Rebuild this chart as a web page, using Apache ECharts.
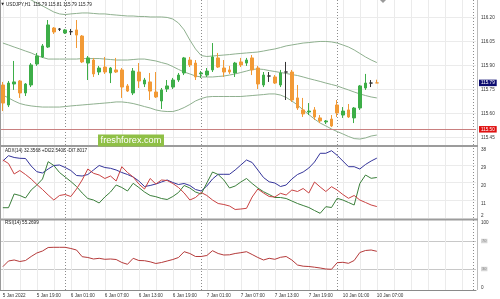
<!DOCTYPE html>
<html><head><meta charset="utf-8">
<script src="https://cdn.jsdelivr.net/npm/echarts@6/dist/echarts.min.js"></script>
<style>html,body{margin:0;padding:0;background:#fff}#c{width:500px;height:299px}</style>
</head><body><div id="c"></div>
<script>
// ---- categories (hourly bars, with empty room on the right) ----
const days = [['5 Jan',13,23],['6 Jan',0,23],['7 Jan',0,23],['10 Jan',0,24]];
const categories = [];
days.forEach(([d,a,b])=>{for(let h=a;h<=b;h++)categories.push(d+' '+String(h).padStart(2,'0')+':00');});
const tickLabels = ['5 Jan 2022','5 Jan 19:00','6 Jan 01:00','6 Jan 07:00','6 Jan 13:00','6 Jan 19:00','7 Jan 01:00','7 Jan 07:00','7 Jan 13:00','7 Jan 19:00','10 Jan 01:00','10 Jan 07:00'];

// ---- USDJPY H1 candles ----
const open = [115.777,115.652,115.783,115.802,115.727,115.777,115.908,115.952,116.014,116.133,116.127,116.102,116.110,116.121,116.083,115.914,115.933,115.858,115.889,115.852,115.871,115.871,115.771,115.727,115.858,115.783,115.796,115.733,115.677,115.752,115.764,115.808,115.852,115.933,115.914,115.846,115.839,115.871,115.946,115.883,115.871,115.852,115.921,115.914,115.946,115.883,115.777,115.833,115.827,115.777,115.858,115.858,115.696,115.621,115.608,115.621,115.571,115.546,115.564,115.652,115.589,115.621,115.571,115.633,115.758,115.789,115.790];
const high = [115.796,115.802,115.927,115.808,115.789,115.914,115.977,116.033,116.183,116.139,116.133,116.127,116.127,116.183,116.089,115.958,115.946,115.896,115.952,115.889,115.946,115.883,115.783,115.883,115.914,115.821,115.852,115.858,115.758,115.808,115.821,115.852,115.952,115.952,115.933,115.864,115.883,116.039,115.977,115.933,115.896,115.921,115.946,115.946,115.964,115.896,115.858,115.858,115.839,115.871,115.921,115.871,115.777,115.696,115.664,115.639,115.589,115.558,115.589,115.683,115.639,115.658,115.639,115.777,115.846,115.808,115.810];
const low = [115.614,115.639,115.746,115.696,115.708,115.764,115.896,115.946,116.008,116.096,116.114,116.096,116.089,116.008,115.914,115.808,115.827,115.839,115.846,115.789,115.852,115.696,115.733,115.714,115.758,115.764,115.683,115.696,115.627,115.733,115.752,115.796,115.839,115.889,115.808,115.821,115.827,115.858,115.883,115.827,115.846,115.827,115.889,115.896,115.839,115.752,115.764,115.796,115.783,115.764,115.683,115.671,115.621,115.577,115.589,115.558,115.539,115.533,115.514,115.577,115.571,115.571,115.539,115.621,115.746,115.764,115.790];
const close = [115.664,115.789,115.796,115.727,115.783,115.902,115.958,116.021,116.152,116.108,116.125,116.121,116.110,116.089,115.921,115.946,115.846,115.883,115.858,115.883,115.858,115.764,115.739,115.864,115.802,115.808,115.739,115.702,115.746,115.771,115.808,115.839,115.946,115.902,115.827,115.852,115.864,115.952,115.889,115.858,115.858,115.914,115.902,115.933,115.871,115.783,115.839,115.833,115.789,115.852,115.858,115.683,115.633,115.596,115.614,115.577,115.552,115.552,115.521,115.602,115.614,115.577,115.633,115.771,115.789,115.789,115.790];
const dojiBars = [10,12,47,50,65];

// ---- Bollinger bands ----
const bbUpper = [116.364,116.358,116.351,116.343,116.326,116.308,116.289,116.271,116.252,116.233,116.221,116.217,116.221,116.224,116.227,116.227,116.224,116.221,116.221,116.217,116.214,116.211,116.208,116.208,116.205,116.205,116.202,116.202,116.202,116.199,116.189,116.164,116.121,116.058,116.002,115.961,115.955,115.958,115.961,115.964,115.967,115.971,115.974,115.977,115.980,115.983,115.989,115.996,116.002,116.011,116.021,116.027,116.033,116.039,116.042,116.046,116.049,116.049,116.046,116.039,116.027,116.014,115.996,115.974,115.952,115.933,115.917];
const bbMiddle = [116.039,116.027,116.014,116.002,115.989,115.977,115.961,115.949,115.939,115.939,115.939,115.939,115.939,115.939,115.942,115.942,115.942,115.942,115.939,115.936,115.933,115.933,115.933,115.936,115.939,115.939,115.933,115.927,115.917,115.908,115.892,115.874,115.858,115.846,115.833,115.827,115.827,115.827,115.830,115.833,115.839,115.846,115.855,115.864,115.874,115.877,115.874,115.867,115.861,115.855,115.849,115.842,115.836,115.827,115.817,115.808,115.799,115.789,115.780,115.771,115.758,115.746,115.733,115.721,115.711,115.702,115.696];
const bbLower = [115.714,115.696,115.677,115.661,115.652,115.646,115.642,115.639,115.639,115.639,115.639,115.642,115.646,115.649,115.652,115.655,115.658,115.661,115.664,115.667,115.671,115.671,115.667,115.661,115.652,115.642,115.633,115.621,115.614,115.611,115.611,115.621,115.636,115.655,115.677,115.692,115.702,115.705,115.705,115.705,115.705,115.705,115.705,115.708,115.711,115.714,115.717,115.721,115.721,115.714,115.699,115.677,115.652,115.621,115.592,115.564,115.539,115.521,115.502,115.486,115.471,115.455,115.442,115.439,115.446,115.458,115.464];

// ---- ADX(14) ----
const adx = [30.90,33.59,32.68,32.27,32.17,28.37,25.47,24.82,26.84,28.62,28.87,27.60,26.08,23.55,23.29,24.05,26.34,28.62,27.60,27.20,26.34,25.07,24.05,22.79,20.76,17.97,18.48,19.24,20.25,21.27,20.00,18.98,19.49,18.48,16.45,15.69,18.22,21.77,24.16,24.16,24.16,26.34,28.87,31.41,30.14,26.34,22.53,20.35,19.74,17.97,18.73,21.77,24.05,25.32,27.35,30.39,34.81,34.81,36.12,33.79,30.90,28.01,28.01,26.84,29.13,30.90,32.36];
const plusDI = [7.22,7.22,14.17,13.41,12.14,16.19,18.73,21.77,30.55,28.62,25.07,22.79,20.51,17.97,14.67,11.88,11.12,9.60,12.65,15.18,18.73,17.46,15.69,19.59,17.46,15.18,13.41,12.80,11.88,11.38,12.90,14.93,18.48,17.21,15.18,14.17,19.74,25.32,24.05,21.27,17.21,18.22,20.25,22.03,19.49,17.21,15.33,13.91,12.39,12.39,11.88,10.62,9.35,8.33,7.32,5.80,4.38,7.73,7.32,11.99,11.12,9.86,8.59,19.49,23.80,22.13,22.54];
const minusDI = [31.41,29.63,24.31,26.08,24.05,21.77,18.98,16.45,13.66,11.12,13.41,13.91,12.90,16.70,21.27,26.84,24.66,23.80,22.03,23.29,20.76,28.01,25.07,22.79,19.24,16.70,22.03,19.24,21.27,21.01,19.49,17.46,14.67,11.12,12.39,14.93,13.41,11.12,9.35,8.84,8.08,6.31,6.56,6.91,12.65,16.70,14.67,12.90,12.65,14.52,13.66,16.19,15.43,16.96,14.67,20.25,17.72,15.43,17.87,16.19,13.91,11.99,13.41,11.12,9.86,8.59,7.80];

// ---- RSI(14) ----
const rsi = [33.29,41.43,42.86,40.71,42.14,47.86,52.86,55.71,60.71,61.00,61.00,61.00,59.29,57.14,47.57,46.43,44.29,45.29,43.86,44.29,43.57,39.29,36.71,45.29,42.14,41.86,40.29,37.86,39.29,41.43,43.57,46.43,54.71,52.14,47.86,47.86,49.29,56.14,52.14,50.00,50.29,52.14,53.29,54.71,50.71,46.43,42.86,45.29,43.86,46.71,47.86,42.86,35.71,34.00,33.57,32.57,31.43,30.00,29.57,39.00,39.57,38.14,42.14,53.57,56.43,57.14,55.27];

// ---- levels / texts ----
const priceLevels = [116.20,116.05,115.90,115.75,115.60,115.45];
const adxLevels = [11,20,29];
const rsiLevels = [70,30];
const lastPrice = 115.79;
const hLinePrice = 115.50;
const mainTitle = 'USDJPY,H1  115.79 115.81 115.79 115.79';
const adxTitle = 'ADX(14) 32.3568 +DI22.5408 -DI7.8017';
const rsiTitle = 'RSI(14) 55.2699';
const separatorBars = [11,35,59,83];

// ---- style ----
const F = '"Liberation Sans", Arial, sans-serif';
const FS = 4.6;
const GREEN = '#3dae48', ORANGE = '#f29a36', DOJI = '#333';
const BB = '#8fb08f', GRIDC = '#ebebeb', SEPC = '#8c8c8c';
const MAIN_TOP = 116.308, MAIN_VIS_BOTTOM = 115.402;

const vGrid = []; for (let i = 0; i <= 81; i += 3) vGrid.push(i);

const candleData = open.map((o, i) => {
  const it = { value: [o, close[i], low[i], high[i]] };
  let c = null;
  if (dojiBars.includes(i)) c = DOJI;
  if (i === open.length - 1) c = ORANGE;
  if (c) it.itemStyle = { color: c, color0: c, borderColor: c, borderColor0: c, borderColorDoji: c };
  return it;
});

function gridLines(xi, yi, horiz, pairRange, hColor) {
  const d = [];
  horiz.forEach(v => d.push({ yAxis: v, lineStyle: { color: hColor || GRIDC, width: 1, type: 'solid' } }));
  vGrid.forEach(i => {
    if (pairRange) d.push([{ coord: [i, pairRange[0]], lineStyle: { color: GRIDC, width: 1, type: 'solid' } }, { coord: [i, pairRange[1]], lineStyle: { color: GRIDC, width: 1, type: 'solid' } }]);
    else d.push({ xAxis: i, lineStyle: { color: GRIDC, width: 1, type: 'solid' } });
  });
  separatorBars.forEach(i => {
    const ls = { color: SEPC, width: 1, type: [1, 2] };
    if (pairRange) d.push([{ coord: [i, pairRange[0]], lineStyle: ls }, { coord: [i, pairRange[1]], lineStyle: ls }]);
    else d.push({ xAxis: i, lineStyle: ls });
  });
  return {
    type: 'line', xAxisIndex: xi, yAxisIndex: yi, data: [], silent: true, z: 1,
    markLine: { silent: true, z: 1, symbol: ['none', 'none'], label: { show: false }, animation: false, data: d }
  };
}

function xAx(gi, show) {
  return {
    type: 'category', gridIndex: gi, data: categories, boundaryGap: true,
    axisLine: { show: show, lineStyle: { color: '#8a8a8a', width: 1 } },
    axisTick: { show: false }, splitLine: { show: false },
    axisLabel: show ? {
      show: true, interval: 0, align: 'left', margin: 3, fontSize: FS, color: '#333', fontFamily: F,
      formatter: (v, idx) => (idx % 6 === 0 && tickLabels[idx / 6]) ? tickLabels[idx / 6] : ''
    } : { show: false }
  };
}

const tagLabel = (bg) => ({
  show: true, position: 'end', distance: 3, formatter: p => Number(p.value).toFixed(2),
  backgroundColor: bg, color: '#fff', fontSize: FS, fontFamily: F, padding: [1, 2, 0.5, 2]
});

const lineS = (xi, yi, data, color) => ({
  type: 'line', xAxisIndex: xi, yAxisIndex: yi, data: data, symbol: 'none', silent: true, z: 3,
  lineStyle: { color: color, width: 1 }, animation: false
});

const option = {
  animation: false,
  backgroundColor: '#ffffff',
  grid: [
    { left: 0, top: 0, width: 476, height: 161.3, containLabel: false, outerBoundsMode: 'none' },
    { left: 0, top: 147, width: 476, height: 71, containLabel: false, outerBoundsMode: 'none' },
    { left: 0, top: 220, width: 476, height: 70, containLabel: false, outerBoundsMode: 'none' }
  ],
  xAxis: [xAx(0, false), xAx(1, false), xAx(2, true)],
  yAxis: [
    {
      type: 'value', gridIndex: 0, position: 'right', min: 115.30, max: MAIN_TOP, interval: 0.15,
      splitLine: { show: false }, axisLine: { show: false }, axisTick: { show: false },
      axisLabel: { showMinLabel: false, showMaxLabel: false, margin: 5, fontSize: FS, color: '#333', fontFamily: F, formatter: v => v.toFixed(2) }
    },
    {
      type: 'value', gridIndex: 1, position: 'right', min: 2, max: 38, interval: 9,
      splitLine: { show: false }, axisLine: { show: false }, axisTick: { show: false },
      axisLabel: {
        margin: 5, fontSize: FS, color: '#333', fontFamily: F, verticalAlign: 'middle',
        formatter: v => v === 2 ? '{b|2}' : '{t|' + Math.round(v) + '}',
        rich: {
          t: { fontSize: FS, color: '#333', fontFamily: F, padding: [6, 0, 0, 0] },
          b: { fontSize: FS, color: '#333', fontFamily: F, padding: [0, 0, 5, 0] }
        }
      }
    },
    {
      type: 'value', gridIndex: 2, position: 'right', min: 0, max: 100, interval: 10,
      splitLine: { show: false }, axisLine: { show: false }, axisTick: { show: false },
      axisLabel: {
        margin: 5, fontSize: FS, color: '#333', fontFamily: F, verticalAlign: 'middle',
        formatter: v => v === 100 ? '{t|100}' : v === 0 ? '{b|0}' : (v === 70 || v === 30) ? '{k|' + v + '}' : '',
        rich: {
          t: { fontSize: FS, color: '#333', fontFamily: F, padding: [5, 0, 0, 0] },
          b: { fontSize: FS, color: '#333', fontFamily: F, padding: [0, 0, 4, 0] },
          k: { fontSize: FS - 0.6, color: '#8a8a8a', fontFamily: F, backgroundColor: '#d6d6d6', padding: [0.5, 1, 0, 1] }
        }
      }
    }
  ],
  series: [
    gridLines(0, 0, priceLevels, [MAIN_TOP, MAIN_VIS_BOTTOM]),
    gridLines(1, 1, adxLevels, null),
    gridLines(2, 2, rsiLevels, null, '#c8c8c8'),
    lineS(0, 0, bbUpper, BB),
    lineS(0, 0, bbMiddle, BB),
    lineS(0, 0, bbLower, BB),
    {
      type: 'candlestick', xAxisIndex: 0, yAxisIndex: 0, data: candleData, barWidth: 3, silent: true, z: 4,
      itemStyle: { color: GREEN, color0: ORANGE, borderColor: GREEN, borderColor0: ORANGE, borderColorDoji: DOJI, borderWidth: 1 }
    },
    {
      type: 'line', xAxisIndex: 0, yAxisIndex: 0, data: [], silent: true, z: 5,
      markLine: {
        silent: true, symbol: ['none', 'none'], animation: false, z: 6,
        data: [
          { yAxis: hLinePrice, lineStyle: { color: '#c98080', width: 1, type: 'solid' }, label: tagLabel('#e01010') },
          { yAxis: lastPrice, lineStyle: { color: 'rgba(255,255,255,0)', width: 1, type: 'solid' }, label: tagLabel('#0c0c70') }
        ]
      }
    },
    lineS(1, 1, adx, '#34349a'),
    lineS(1, 1, plusDI, '#3b7f3b'),
    lineS(1, 1, minusDI, '#c94242'),
    lineS(2, 2, rsi, '#b53a3a')
  ],
  graphic: { elements: [
    { type: 'line', silent: true, z: 10, shape: { x1: 0.5, y1: 0, x2: 0.5, y2: 290 }, style: { stroke: '#9a9a9a', lineWidth: 1 } },
    { type: 'line', silent: true, z: 10, shape: { x1: 477.5, y1: 0, x2: 477.5, y2: 290 }, style: { stroke: '#bdbdbd', lineWidth: 1 } },
    { type: 'rect', silent: true, z: 10, shape: { x: 0, y: 145, width: 478, height: 2 }, style: { fill: '#9c9c9c' } },
    { type: 'rect', silent: true, z: 10, shape: { x: 0, y: 218.5, width: 478, height: 2 }, style: { fill: '#9c9c9c' } },
    { type: 'polygon', silent: true, z: 10, shape: { points: [[380, 0], [386, 0], [383, 3]] }, style: { fill: '#9a9a9a' } },
    { type: 'rect', silent: true, z: 20, shape: { x: 98, y: 134.5, width: 66, height: 12 }, style: { fill: '#8fc046' } },
    { type: 'text', silent: true, z: 21, style: { text: 'freshforex.com', x: 131, y: 140.6, fill: '#ffffff', font: '9.2px ' + F, align: 'center', verticalAlign: 'middle' } },
    { type: 'text', silent: true, z: 21, style: { text: '▼', x: 1.2, y: 4.3, fill: '#222', font: '3.6px "DejaVu Sans"', align: 'left', verticalAlign: 'middle' } },
    { type: 'text', silent: true, z: 21, style: { text: mainTitle, x: 6, y: 4.3, fill: '#222', font: FS + 'px ' + F, align: 'left', verticalAlign: 'middle' } },
    { type: 'text', silent: true, z: 21, style: { text: adxTitle, x: 5, y: 150.7, fill: '#222', font: FS + 'px ' + F, align: 'left', verticalAlign: 'middle' } },
    { type: 'text', silent: true, z: 21, style: { text: rsiTitle, x: 5, y: 223.2, fill: '#222', font: FS + 'px ' + F, align: 'left', verticalAlign: 'middle' } }
  ] }
};

const chart = echarts.init(document.getElementById('c'), null, { renderer: 'canvas' });
chart.setOption(option);
</script>
</body></html>
